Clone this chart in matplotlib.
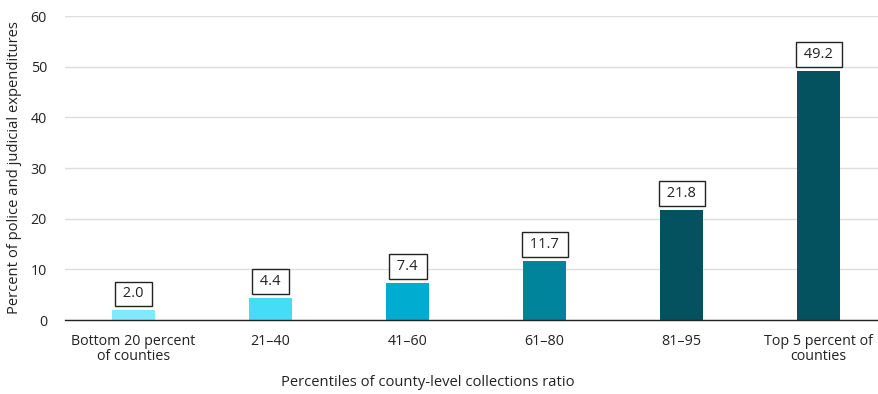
import matplotlib.pyplot as plt

categories = ["Bottom 20 percent\nof counties", "21\u201340", "41\u201360", "61\u201380", "81\u201395",
              "Top 5 percent of\ncounties"]
values = [2.0, 4.4, 7.4, 11.7, 21.8, 49.2]
colors = ["#80e9fb", "#45dcf8", "#00acd0", "#00849c", "#04515f", "#04515f"]

plt.rcParams['font.family'] = ['Open Sans', 'DejaVu Sans']

fig = plt.figure(figsize=(8.79, 3.94), dpi=100)
ax = fig.add_axes([65 / 879, 1 - 320 / 394, 1 - 65 / 879, 304 / 394])

x = range(len(categories))
ax.bar(x, values, width=0.315, color=colors, zorder=2)

# value boxes above bars
for i, v in enumerate(values):
    ax.annotate(f" {v:.1f} ", (i, v), xytext=(0, 11.5), textcoords="offset points",
                ha="center", va="center", fontsize=10.5, color="#222222",
                bbox=dict(boxstyle="square,pad=0.33", fc="white", ec="#222222", lw=1.0))

ax.set_xlim(-0.5, 5.44)
ax.set_ylim(0, 60)
ax.set_yticks(range(0, 61, 10))
ax.set_xticks(list(x))
ax.set_xticklabels(categories, fontsize=10.3, color="#222222", linespacing=1.05)
ax.tick_params(axis="y", labelsize=10.3, labelcolor="#222222", length=0, pad=13)
ax.tick_params(axis="x", length=0, pad=10)
ax.grid(axis="y", color="#dddddd", lw=1.0, zorder=0)
for s in ["top", "right", "left"]:
    ax.spines[s].set_visible(False)
ax.spines["bottom"].set_color("#222222")
ax.spines["bottom"].set_linewidth(1.0)
ax.spines["bottom"].set_zorder(3)

ax.set_ylabel("Percent of police and judicial expenditures", fontsize=10.6, color="#222222", labelpad=6)
ax.set_xlabel("Percentiles of county-level collections ratio", fontsize=10.6, color="#222222")
ax.xaxis.set_label_coords((428 - 65) / 814, (320 - 382) / 304)
ax.xaxis.label.set_va("center")

fig.savefig("out.png", dpi=100)
